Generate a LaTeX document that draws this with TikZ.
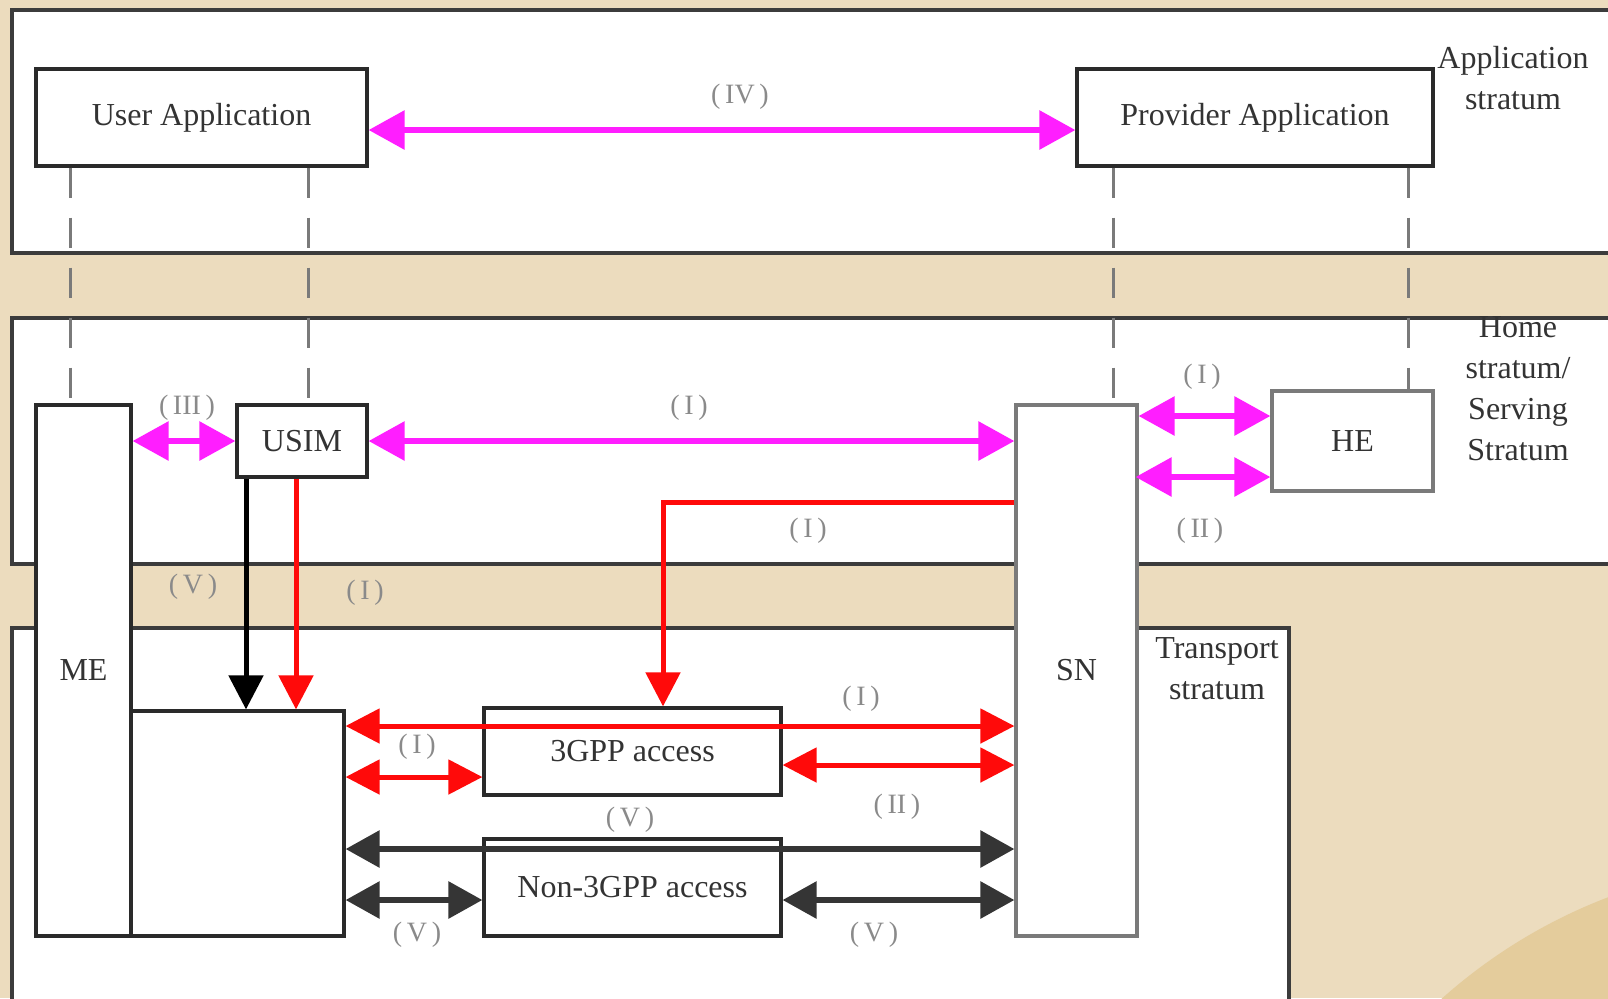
\documentclass[tikz,border=0pt]{standalone}
\usepackage{fontspec}
\setmainfont{Liberation Serif}
\usetikzlibrary{arrows.meta,calc}
\definecolor{beige}{HTML}{ECDCBE}
\definecolor{beigedk}{HTML}{E4CC9C}
\definecolor{panelc}{HTML}{3C3C3C}
\definecolor{boxc}{HTML}{2A2A2A}
\definecolor{grayc}{HTML}{7A7A7A}
\definecolor{txtc}{HTML}{333333}
\definecolor{lblc}{HTML}{8A8A8A}
\definecolor{mag}{HTML}{FF1EFF}
\definecolor{redc}{HTML}{FF0A0A}
\definecolor{darkc}{HTML}{353535}
\begin{document}
\begin{tikzpicture}[x=0.5pt,y=-0.5pt,
  panel/.style={draw=panelc, line width=1.6pt, fill=white},
  box/.style={draw=boxc, line width=1.6pt, fill=white, inner sep=0pt, text=txtc, font=\fontsize{16}{18}\selectfont},
  graybox/.style={box, draw=grayc},
  strat/.style={text=txtc, font=\fontsize{16}{20.5}\selectfont, align=center, inner sep=0pt},
  lbl/.style={text=lblc, font=\fontsize{14}{16}\selectfont, inner sep=0pt},
  dashl/.style={draw=grayc, line width=1.5pt, dash pattern=on 15pt off 10pt},
  magarr/.style={draw=mag, line width=3pt, {Triangle[length=18pt,width=19pt]}-{Triangle[length=18pt,width=19pt]}},
  redarr/.style={draw=redc, line width=2.5pt, {Triangle[length=17pt,width=17pt]}-{Triangle[length=17pt,width=17pt]}},
  reddown/.style={draw=redc, line width=2.5pt, -{Triangle[length=17pt,width=17pt]}},
  blkdown/.style={draw=black, line width=2.5pt, -{Triangle[length=17pt,width=17pt]}},
  darkarr/.style={draw=darkc, line width=3pt, {Triangle[length=17pt,width=18pt]}-{Triangle[length=17pt,width=18pt]}}
]
% background
\fill[beige] (0,0) rectangle (1608,998);
\begin{scope}
\clip (0,0) rectangle (1608,998);
\fill[beigedk] (1800,1400) circle[radius=269pt];
\end{scope}
\useasboundingbox (0,0) rectangle (1608,998);

% panels
\draw[panel] (1612,10) -- (12,10) -- (12,253) -- (1612,253);
\draw[panel] (1612,318) -- (12,318) -- (12,564) -- (1612,564);
\draw[panel] (12,1002) -- (12,628) -- (1289,628) -- (1289,1002);

% stratum texts
\node[strat] (tapp) at (1513,78.5) {Application\\stratum};
\node[strat] (thome) at (1518,388.5) {Home\\stratum/\\Serving\\Stratum};
\node[strat] (ttrans) at (1217,668.5) {Transport\\stratum};

% application boxes
\node[box, minimum width=165.5pt, minimum height=48.5pt] (ua) at (201.5,117.5) {User Application};
\node[box, minimum width=178pt, minimum height=48.5pt] (pa) at (1255,117.5) {Provider Application};

% home / serving boxes
\node[box, minimum width=47.5pt, minimum height=265.5pt] (me) at (83.5,670.5) {ME};
\node[box, minimum width=65pt, minimum height=36pt] (usim) at (302,441) {USIM};
\node[graybox, minimum width=60.5pt, minimum height=265.5pt] (sn) at (1076.5,670.5) {SN};
\node[graybox, minimum width=80.5pt, minimum height=50pt] (he) at (1352.5,441) {HE};

% dashed links
\draw[dashl] (ua.south -| 70,0) -- (me.north -| 70,0);
\draw[dashl] (ua.south -| 308,0) -- (usim.north -| 308,0);
\draw[dashl] (pa.south -| 1113,0) -- (sn.north -| 1113,0);
\draw[dashl] (pa.south -| 1408,0) -- (he.north -| 1408,0);

% transport boxes
\node[box, minimum width=106.5pt, minimum height=112.5pt] (ub) at (237.5,823.5) {};
\node[box, minimum width=148.5pt, minimum height=43.5pt] (g3) at (632.5,751.5) {3GPP access};
\node[box, minimum width=148.5pt, minimum height=48.5pt] (ng3) at (632.5,887.5) {Non-3GPP access};

% magenta arrows
\draw[magarr] (ua.east |- 0,130) -- (pa.west |- 0,130);
\draw[magarr] (me.east |- 0,441) -- (usim.west |- 0,441);
\draw[magarr] (usim.east |- 0,441) -- (sn.west |- 0,441);
\draw[magarr] (sn.east |- 0,416) -- (he.west |- 0,416);
\draw[magarr] ($(sn.east |- 0,477)+(-3,0)$) -- (he.west |- 0,477);

% vertical arrows from USIM
\draw[blkdown] (usim.south -| 246,0) -- (ub.north -| 246,0);
\draw[reddown] (usim.south -| 296,0) -- (ub.north -| 296,0);

% red line from SN to 3GPP
\draw[reddown] (sn.west |- 0,502) -| (g3.north -| 663,0);

% transport arrows
\draw[redarr] (ub.east |- 0,726) -- (sn.west |- 0,726);
\draw[redarr] (ub.east |- 0,777) -- (g3.west |- 0,777);
\draw[redarr] (g3.east |- 0,765) -- (sn.west |- 0,765);
\draw[darkarr] (ub.east |- 0,849) -- (sn.west |- 0,849);
\draw[darkarr] (ub.east |- 0,900) -- (ng3.west |- 0,900);
\draw[darkarr] (ng3.east |- 0,900) -- (sn.west |- 0,900);

% labels
\node[lbl] (l1) at (740,97) {(\,IV\,)};
\node[lbl] (l2) at (187,408) {(\,III\,)};
\node[lbl] (l3) at (689,408) {(\,I\,)};
\node[lbl] (l4) at (1202,377) {(\,I\,)};
\node[lbl] (l5) at (1200,531) {(\,II\,)};
\node[lbl] (l6) at (808,531) {(\,I\,)};
\node[lbl] (l7) at (193,587) {(\,V\,)};
\node[lbl] (l8) at (365,593) {(\,I\,)};
\node[lbl] (l9) at (861,699) {(\,I\,)};
\node[lbl] (l10) at (417,747) {(\,I\,)};
\node[lbl] (l11) at (897,807) {(\,II\,)};
\node[lbl] (l12) at (630,820) {(\,V\,)};
\node[lbl] (l13) at (417,935) {(\,V\,)};
\node[lbl] (l14) at (874,935) {(\,V\,)};
\end{tikzpicture}
\end{document}
